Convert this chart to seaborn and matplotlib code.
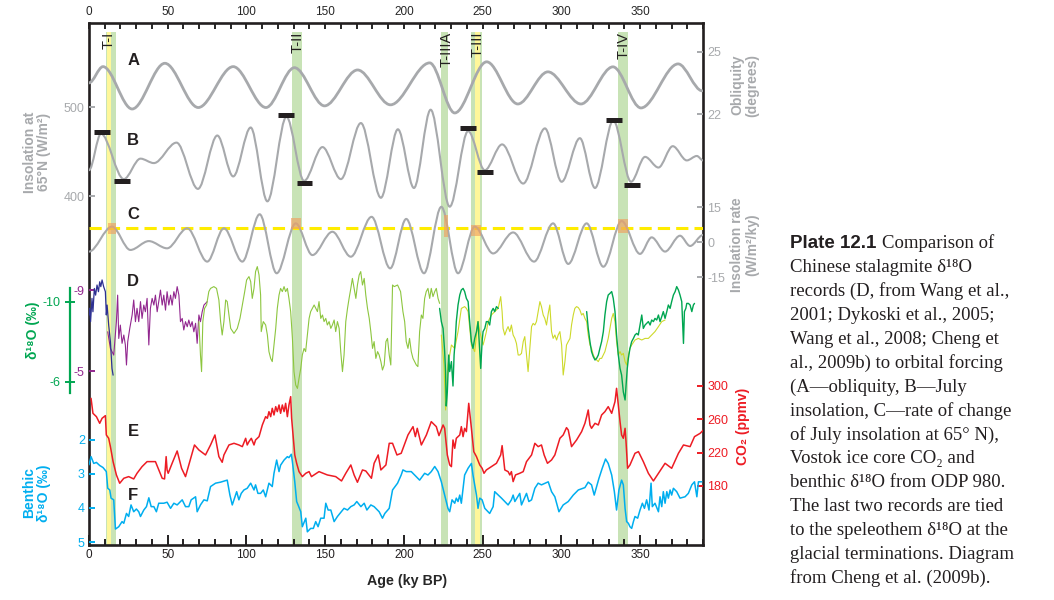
import matplotlib
matplotlib.use("Agg")
import matplotlib.pyplot as plt
import seaborn as sns
import pandas as pd
from matplotlib.path import Path
from matplotlib.patches import PathPatch, Rectangle
from matplotlib.ticker import MultipleLocator

sns.set_style("white")
plt.rcParams["font.family"] = ["Liberation Sans", "DejaVu Sans"]
plt.rcParams["axes.unicode_minus"] = False

# ---------------- data (age in ky BP) ----------------
# A: obliquity (degrees), extrema of the curve
obl_age = [0, 8.9, 27.4, 48.2, 69.4, 91.6, 112.4, 130.5, 149.6, 170.6, 191.5, 216.4, 232.3,
           252.6, 272.4, 291.5, 312.5, 332.8, 350.6, 374.2, 389.5]
obl = [23.50, 24.28, 22.25, 24.44, 22.32, 24.28, 22.32, 24.23, 22.40, 24.12, 22.45, 24.46, 22.06,
       24.51, 22.49, 24.03, 22.49, 24.27, 22.30, 24.41, 23.12]

# B: July insolation 65N (W/m2), extrema
ins_age = [0, 7.6, 22.1, 32.7, 41.2, 55.6, 69.2, 81.5, 91.6, 102.7, 113.3, 125.4, 136.6, 148.3,
           160.0, 172.7, 185.4, 196.2, 206.4, 217.0, 229.1, 240.8, 251.4, 262.4, 275.8, 289.6,
           300.2, 311.8, 321.4, 333.0, 344.3, 353.2, 361.7, 370.8, 379.7, 386.1, 390]
ins = [429, 470, 419, 442, 437, 460, 408, 468, 422, 477, 394, 489, 417, 455, 419, 482, 398, 475,
       409, 497, 388, 473, 429, 458, 414, 476, 416, 465, 409, 485, 416, 444, 432, 456, 440, 445, 440]

# C: insolation rate (W/m2/ky), extrema
rate_age = [0, 14.6, 26.3, 38.0, 49.6, 62.4, 75.1, 85.7, 97.4, 108.4, 119.2, 131.3, 141.9, 154.6,
            166.3, 179.5, 191.3, 201.5, 212.8, 223.8, 234.4, 245.0, 256.7, 269.4, 282.7, 294.8,
            304.4, 316.1, 326.7, 338.3, 350.0, 357.4, 365.9, 375.4, 381.8, 390]
rate = [-4.1, 6.6, -3.4, 0.4, -2.7, 5.9, -8.4, 5.9, -8.4, 11.9, -13.4, 8.0, -5.6, 4.4, -6.3, 10.8,
        -11.3, 9.9, -13.4, 15.1, -13.4, 6.6, -4.9, 4.1, -8.4, 8.0, -9.4, 8.0, -10.6, 9.0, -5.1, 2.0,
        -4.1, 2.7, -1.7, 3.0]
rate_threshold = 5.9

# black bars on B (start age, end age, W/m2)
bar_start = [3.4, 16.1, 120.3, 131.9, 235.5, 246.3, 328.4, 340.0]
bar_end = [13.2, 26.3, 130.3, 141.9, 246.1, 256.5, 338.4, 350.0]
bar_val = [472, 417, 491, 415, 476, 427, 485, 412]

# terminations
term_labels = ["T-I", "T-II", "T-IIIA", "T-III", "T-IV"]
term_label_age = [12.7, 132.4, 227.2, 246.9, 339.8]
term_start = [10.8, 129.2, 223.8, 242.5, 336.0]
term_end = [17.2, 135.4, 228.3, 249.7, 342.2]
yellow_start = [11.6, 245.0]
yellow_end = [13.8, 248.2]
box_start = [11.9, 128.5, 225.3, 242.5, 335.8]
box_end = [17.4, 134.9, 228.0, 248.8, 342.2]
box_lo = [3.4, 5.4, 2.3, 2.7, 4.0]
box_hi = [8.0, 10.4, 11.6, 7.3, 9.7]

# D: stalagmite d18O, dark blue + purple on the purple scale
d_blue = [(0.0, -7.77), (0.4, -8.10), (1.0, -7.44), (1.9, -8.59), (2.5, -7.93), (3.4, -9.08),
          (4.2, -8.75), (5.1, -9.25), (6.0, -8.92), (6.8, -9.41), (7.5, -9.17), (8.3, -9.50),
          (9.3, -9.17), (10.4, -8.92), (11.0, -7.77), (11.5, -8.26), (12.5, -7.27), (13.6, -6.45),
          (14.6, -5.13), (15.3, -4.80)]
d_purple = [(11.9, -6.94), (13.6, -6.12), (15.7, -5.79), (17.4, -7.44), (18.2, -8.75), (18.9, -6.61),
            (19.9, -7.27), (21.0, -6.37), (22.1, -6.78), (23.1, -6.29), (23.8, -5.30), (24.6, -6.45),
            (25.9, -7.11), (27.4, -7.77), (28.4, -8.51), (29.5, -7.44), (30.5, -8.10), (31.6, -7.44),
            (32.7, -8.43), (33.7, -7.60), (34.8, -8.26), (35.8, -7.93), (36.9, -8.59), (38.0, -6.29),
            (39.0, -8.10), (40.1, -8.59), (41.2, -8.26), (42.2, -8.75), (43.3, -7.93), (44.3, -8.43),
            (45.4, -9.00), (46.5, -8.26), (47.5, -8.75), (48.6, -8.01), (49.6, -8.92), (50.7, -8.26),
            (51.8, -8.75), (52.8, -8.26), (53.9, -8.92), (54.9, -8.59), (56.0, -9.17), (57.1, -8.75),
            (58.1, -7.44), (59.2, -7.60), (60.2, -7.03), (61.3, -7.44), (62.4, -7.19), (63.4, -7.52),
            (64.5, -7.19), (65.5, -7.44), (66.6, -6.94), (67.7, -7.36), (68.7, -6.37), (69.8, -7.77),
            (70.8, -7.44), (71.9, -7.93), (73.0, -8.26), (74.0, -8.34), (75.1, -8.43)]

# D: green-scale records
d_light = [(69.8, -9.02), (70.8, -7.35), (71.5, -6.52), (72.3, -9.02), (73.4, -9.68), (74.7, -9.85),
           (76.1, -10.52), (77.2, -10.68), (79.3, -10.77), (81.0, -10.68), (82.5, -10.10), (83.6, -9.02),
           (84.6, -8.35), (85.7, -9.02), (86.8, -10.10), (87.8, -10.02), (88.9, -9.35), (90.0, -8.68),
           (92.1, -8.43), (94.2, -8.68), (95.9, -9.18), (97.4, -9.85), (98.9, -10.52), (100.1, -11.10),
           (101.6, -11.27), (102.7, -11.02), (103.7, -10.18), (104.8, -10.68), (105.8, -11.52),
           (106.9, -11.77), (108.0, -11.35), (109.0, -10.35), (109.4, -8.52), (110.7, -9.02),
           (112.2, -8.85), (113.3, -8.35), (114.3, -7.52), (115.4, -7.18), (116.4, -7.02), (117.5, -7.85),
           (118.6, -8.68), (119.6, -9.68), (120.7, -10.35), (121.7, -10.68), (122.8, -10.52),
           (123.9, -10.77), (124.9, -10.52), (126.0, -10.68), (127.0, -10.18), (128.1, -9.52),
           (129.2, -8.18), (130.2, -6.52), (131.3, -5.85), (132.4, -5.68), (133.4, -6.18), (134.5, -6.68),
           (135.5, -7.35), (136.6, -7.68), (137.6, -7.52), (138.7, -8.35), (139.8, -9.18), (140.8, -9.52),
           (143.0, -9.85), (145.1, -9.52), (146.1, -10.02), (147.2, -9.18), (148.3, -9.35), (149.3, -9.02),
           (150.4, -9.18), (151.4, -8.85), (152.5, -9.02), (153.6, -8.68), (154.6, -8.85), (155.7, -9.10),
           (156.7, -8.52), (157.8, -9.02), (158.9, -8.68), (159.9, -7.52), (161.0, -6.52), (162.0, -7.35),
           (163.1, -9.02), (164.2, -9.68), (165.2, -10.18), (166.3, -10.68), (167.3, -11.18),
           (168.4, -10.68), (169.5, -10.18), (170.5, -10.85), (171.6, -11.35), (172.6, -11.52),
           (173.7, -10.85), (174.8, -11.18), (175.8, -10.35), (176.9, -9.68), (178.0, -9.18),
           (179.0, -8.52), (180.1, -7.68), (181.1, -8.02), (182.2, -7.18), (183.3, -7.52), (184.3, -7.35),
           (185.4, -7.02), (186.4, -6.60), (187.5, -6.85), (188.6, -8.02), (189.6, -8.18), (190.7, -7.35),
           (191.7, -6.85), (192.8, -10.85), (193.9, -10.77), (196.0, -10.85), (197.9, -10.52),
           (199.4, -9.52), (200.5, -9.02), (201.5, -8.02), (202.6, -7.68), (203.6, -8.18), (204.7, -7.52),
           (205.8, -7.18), (206.8, -7.02), (207.9, -6.85), (208.9, -6.77), (210.0, -8.52), (211.1, -9.35),
           (212.1, -9.18), (213.2, -10.18), (214.2, -10.52), (215.3, -10.68), (216.4, -10.18),
           (217.4, -10.68), (218.5, -10.27), (219.6, -10.52), (220.6, -10.68), (221.7, -10.18),
           (222.7, -9.93)]
d_lime = [(223.8, -8.35), (225.5, -6.85), (226.5, -4.6), (228.0, -6.85), (230.2, -7.85), (232.3, -7.68),
          (234.4, -8.52), (236.5, -9.68), (238.6, -9.77), (239.7, -9.68), (240.8, -9.52), (242.9, -7.85),
          (245.0, -7.52), (246.1, -8.35), (247.1, -9.02), (248.2, -8.52), (249.3, -8.18), (250.3, -7.85),
          (251.4, -8.18), (252.4, -8.52), (253.5, -9.02), (255.6, -9.35), (257.7, -9.52), (259.9, -9.68),
          (261.5, -10.27), (262.4, -9.52), (263.0, -8.68), (264.1, -8.35), (265.2, -8.60), (266.2, -8.77),
          (267.3, -8.52), (268.3, -8.85), (269.4, -8.35), (270.5, -8.18), (271.5, -7.93), (272.6, -7.35),
          (273.6, -7.35), (274.7, -7.43), (275.8, -8.02), (276.8, -8.27), (277.9, -7.35), (278.9, -6.52),
          (280.0, -7.68), (281.1, -8.77), (282.1, -8.93), (283.2, -8.85), (284.2, -9.02), (285.3, -9.52),
          (286.4, -10.02), (287.4, -9.77), (288.5, -9.35), (289.5, -9.18), (290.6, -8.85), (291.7, -9.43),
          (292.7, -9.85), (293.8, -8.52), (294.8, -8.18), (295.9, -8.35), (297.0, -8.10), (298.0, -8.35),
          (299.1, -8.52), (300.2, -7.85), (301.2, -6.35), (302.3, -7.02), (303.3, -7.85), (304.4, -8.02),
          (305.5, -8.18), (306.5, -8.85), (307.6, -9.35), (308.6, -9.68), (309.7, -9.77), (310.8, -9.72),
          (311.8, -9.60), (312.9, -9.35), (313.9, -9.43), (315.0, -9.18), (316.1, -9.02), (317.1, -8.35),
          (318.2, -7.85), (319.2, -7.68), (320.3, -7.35), (321.4, -7.18), (323.5, -7.02), (324.5, -7.18),
          (325.6, -7.18), (327.7, -7.52), (329.8, -8.18), (332.0, -9.18), (333.0, -9.43), (334.1, -9.02),
          (335.1, -8.02), (336.2, -7.35), (337.3, -7.52), (338.3, -7.35), (339.4, -7.43), (340.5, -7.02),
          (341.5, -6.85), (342.6, -7.35), (343.6, -7.68), (344.7, -7.85), (346.8, -8.10), (348.9, -8.18),
          (351.1, -8.10), (353.2, -8.18), (355.3, -8.18), (357.4, -8.35), (359.5, -8.52), (361.7, -8.77),
          (363.8, -9.02), (365.9, -9.10)]
d_dark1 = [(222.7, -9.68), (223.8, -9.02), (224.9, -8.68), (225.9, -7.52), (226.5, -6.5), (226.9, -4.8),
           (227.6, -5.5), (228.5, -7.35), (229.1, -6.52), (230.2, -7.02), (231.2, -5.8), (231.9, -7.35),
           (232.7, -8.18), (233.3, -9.02), (234.4, -9.85), (235.5, -10.35), (236.5, -10.60), (237.6, -10.68),
           (238.6, -10.52), (239.7, -10.18), (240.8, -10.02), (241.8, -9.02), (242.9, -8.02), (243.9, -7.68),
           (245.0, -8.18), (246.1, -8.52), (247.1, -9.02), (248.2, -7.52), (248.8, -6.68), (249.7, -8.02),
           (250.3, -8.52), (251.4, -8.68), (252.4, -9.02), (253.5, -9.02), (254.5, -8.85), (255.6, -9.52),
           (256.7, -9.68), (257.7, -9.52), (258.8, -9.77), (259.9, -9.68)]
d_dark2 = [(316.1, -9.52), (317.1, -8.68), (318.2, -8.02), (319.2, -7.52), (320.3, -7.27), (321.4, -7.10),
           (322.4, -7.18), (323.5, -7.35), (324.5, -7.68), (325.6, -8.02), (326.7, -8.52), (327.7, -9.35),
           (328.8, -10.02), (329.8, -10.35), (330.9, -10.43), (332.0, -10.52), (333.0, -10.18),
           (334.1, -9.52), (335.1, -8.35), (336.2, -7.35), (337.3, -6.68), (338.3, -6.35), (339.4, -5.5),
           (340.5, -5.1), (341.1, -5.8), (341.9, -6.68), (342.6, -7.18), (343.6, -7.68), (344.7, -8.02),
           (345.8, -8.18), (346.8, -8.35), (347.9, -8.43), (348.9, -8.35), (350.0, -8.85), (351.1, -9.35),
           (352.1, -8.68), (353.2, -8.85), (354.2, -8.93), (355.3, -9.02), (356.4, -8.85), (357.4, -9.10),
           (358.5, -9.02), (359.5, -9.18), (360.6, -9.10), (361.7, -9.35), (362.7, -9.02), (363.8, -9.27),
           (364.8, -9.52), (365.9, -9.18), (367.0, -9.52), (368.0, -9.85), (369.1, -9.68), (370.1, -10.02),
           (371.2, -10.35), (372.3, -10.52), (373.3, -10.77), (374.4, -10.60), (375.4, -10.35),
           (376.5, -10.02), (377.6, -7.93), (378.2, -9.52), (379.1, -9.68), (379.7, -9.93), (380.7, -9.93),
           (381.8, -9.85), (382.9, -9.52), (383.9, -9.85), (384.6, -9.93)]

# E: Vostok CO2 (ppmv)
co2 = [(1.3, 285.2), (2.5, 267.2), (4.7, 263.2), (6.8, 255.2), (8.3, 261.2), (10.4, 264.4), (11.0, 241.2),
       (12.5, 237.2), (13.6, 227.2), (15.3, 209.2), (17.4, 193.2), (19.5, 183.2), (22.1, 189.2),
       (25.2, 191.2), (28.4, 188.4), (30.5, 195.2), (33.7, 203.2), (36.9, 209.2), (42.2, 209.2),
       (46.5, 189.2), (48.0, 188.4), (49.0, 215.2), (49.6, 199.2), (50.3, 195.2), (52.8, 207.2),
       (56.0, 222.0), (58.8, 201.2), (61.3, 191.2), (67.0, 229.2), (69.8, 223.2), (74.0, 217.2),
       (77.2, 229.2), (80.0, 241.2), (82.5, 215.2), (84.6, 208.4), (85.7, 217.2), (88.9, 229.2),
       (92.1, 231.2), (95.2, 229.2), (97.4, 227.2), (99.5, 237.2), (100.5, 229.2), (101.6, 233.2),
       (103.1, 237.2), (104.8, 229.2), (105.8, 235.2), (108.0, 239.2), (110.1, 253.2), (112.2, 263.2),
       (113.3, 261.2), (114.3, 269.2), (115.4, 263.2), (116.4, 273.2), (117.5, 265.2), (118.6, 275.2),
       (119.6, 269.2), (120.7, 277.2), (121.7, 267.2), (122.8, 277.2), (123.9, 269.2), (124.9, 279.2),
       (126.0, 263.2), (127.0, 277.2), (128.1, 287.2), (128.7, 261.2), (129.8, 237.2), (130.7, 217.2),
       (131.9, 207.2), (133.4, 197.2), (135.5, 191.2), (137.7, 195.2), (139.8, 197.2), (141.3, 191.2),
       (146.1, 197.2), (151.4, 193.2), (156.7, 191.2), (160.4, 186.0), (163.1, 195.2), (166.3, 205.2),
       (168.4, 193.2), (170.5, 184.4), (173.7, 199.2), (175.8, 198.0), (179.4, 189.2), (181.1, 207.2),
       (183.7, 217.2), (185.4, 199.2), (188.6, 205.2), (190.7, 231.2), (192.8, 231.2), (195.6, 217.2),
       (198.3, 219.2), (202.6, 241.2), (205.8, 251.2), (207.3, 239.2), (208.5, 249.2), (211.1, 229.2),
       (214.3, 241.2), (217.4, 257.2), (220.6, 251.2), (222.3, 240.4), (224.9, 253.2), (225.9, 249.2),
       (227.6, 217.2), (229.1, 205.2), (230.2, 203.2), (231.2, 235.2), (232.3, 225.2), (233.3, 237.2),
       (235.5, 241.2), (236.5, 251.2), (237.6, 239.2), (238.6, 249.2), (239.7, 245.2), (241.2, 279.2),
       (242.9, 249.2), (244.4, 221.2), (246.1, 215.2), (248.2, 205.2), (249.7, 201.2), (250.9, 195.2),
       (252.4, 199.2), (255.6, 203.2), (258.8, 207.2), (261.5, 217.2), (262.4, 228.4), (264.1, 199.2),
       (266.2, 197.2), (267.3, 193.2), (268.3, 197.2), (269.4, 185.2), (270.9, 193.2), (273.6, 195.2),
       (275.8, 197.2), (277.9, 209.2), (281.1, 217.2), (283.2, 231.2), (285.3, 227.2), (287.4, 229.2),
       (289.1, 217.2), (291.2, 207.2), (293.8, 211.2), (295.9, 217.2), (299.1, 237.2), (301.2, 241.2),
       (303.3, 250.0), (304.4, 247.2), (306.5, 227.2), (309.7, 235.2), (312.9, 245.2), (315.0, 255.2),
       (316.1, 263.2), (317.1, 271.2), (318.2, 253.2), (319.2, 249.2), (321.4, 255.2), (323.5, 253.2),
       (325.6, 265.2), (327.7, 269.2), (329.8, 275.2), (332.0, 267.2), (334.1, 281.2), (335.1, 297.2),
       (336.2, 277.2), (337.3, 257.2), (338.3, 241.2), (339.4, 237.2), (340.5, 249.2), (341.1, 233.2),
       (342.1, 201.2), (343.6, 205.2), (346.8, 219.2), (349.0, 221.2), (352.1, 209.2), (355.3, 195.2),
       (358.5, 186.0), (361.7, 195.2), (365.9, 207.2), (370.1, 201.2), (374.4, 219.2), (377.6, 229.2),
       (381.8, 227.2), (384.6, 239.2), (388.2, 243.2), (390.3, 247.2)]

# F: benthic d18O ODP 980 (permil)
benthic = [(0.0, 2.73), (1.3, 2.49), (3.0, 2.69), (4.7, 2.66), (6.8, 2.75), (8.9, 2.81), (11.0, 2.93),
           (11.9, 3.42), (13.2, 3.47), (14.0, 3.71), (15.7, 3.76), (16.8, 4.62), (18.9, 4.55), (21.0, 4.40),
           (22.1, 4.45), (23.8, 4.16), (25.2, 4.25), (26.7, 3.91), (28.4, 4.11), (30.1, 4.03), (31.6, 4.11),
           (32.7, 4.25), (34.8, 4.06), (36.5, 3.96), (38.0, 3.70), (39.5, 3.96), (41.2, 3.96), (42.8, 4.11),
           (44.3, 3.86), (47.5, 3.86), (49.6, 3.83), (51.8, 4.01), (53.9, 3.86), (56.0, 3.91), (59.2, 3.76),
           (61.3, 3.96), (63.4, 3.96), (64.9, 3.76), (67.7, 3.67), (68.7, 4.11), (70.8, 3.91), (73.0, 3.76),
           (75.1, 3.79), (77.2, 3.37), (80.4, 3.27), (83.6, 3.24), (87.8, 3.18), (89.5, 3.62), (91.0, 3.91),
           (93.8, 3.52), (95.2, 3.76), (96.7, 3.57), (98.4, 3.47), (100.5, 3.42), (102.7, 3.27),
           (104.8, 3.47), (105.8, 3.32), (107.3, 3.57), (109.0, 3.57), (110.7, 3.47), (112.2, 3.67),
           (114.3, 3.27), (116.4, 3.37), (117.5, 2.98), (119.2, 2.59), (120.7, 2.93), (121.7, 2.74),
           (123.9, 2.59), (126.0, 2.49), (127.0, 2.52), (128.5, 2.42), (129.2, 2.64), (130.7, 3.23),
           (131.9, 3.81), (132.8, 3.91), (134.5, 4.11), (135.5, 4.55), (137.7, 4.30), (138.7, 4.70),
           (140.8, 4.60), (142.5, 4.60), (144.0, 4.40), (145.5, 4.55), (147.2, 4.30), (149.3, 4.30),
           (150.4, 3.86), (151.9, 4.06), (153.6, 4.06), (155.7, 4.40), (157.8, 4.25), (162.0, 4.01),
           (164.2, 4.06), (166.3, 3.96), (168.4, 3.91), (170.1, 3.81), (172.7, 3.96), (174.8, 3.86),
           (176.5, 4.06), (179.0, 3.91), (181.1, 3.96), (184.3, 4.11), (186.4, 4.30), (187.9, 4.16),
           (190.7, 4.01), (192.8, 3.47), (196.0, 3.27), (198.3, 3.03), (199.4, 2.88), (201.5, 2.93),
           (204.7, 2.93), (206.8, 3.03), (210.0, 3.18), (213.2, 2.98), (215.3, 3.03), (217.4, 2.93),
           (219.6, 2.78), (221.7, 2.93), (223.8, 3.23), (225.9, 3.62), (228.0, 4.01), (229.1, 4.11),
           (230.6, 3.76), (232.3, 3.86), (233.3, 3.71), (234.4, 3.81), (235.5, 3.62), (236.5, 3.86),
           (237.6, 3.42), (238.6, 3.03), (239.7, 2.93), (240.8, 2.83), (242.9, 2.69), (243.9, 3.03),
           (246.1, 3.62), (247.1, 4.01), (248.2, 3.71), (249.7, 3.76), (251.4, 4.01), (254.5, 4.16),
           (256.7, 3.96), (257.7, 3.52), (262.0, 3.71), (266.2, 3.91), (268.3, 3.76), (269.4, 3.62),
           (270.5, 3.81), (273.6, 3.57), (274.7, 3.91), (277.9, 3.57), (279.4, 3.81), (281.1, 3.76),
           (283.2, 3.42), (285.3, 3.27), (287.4, 3.32), (291.7, 3.23), (293.8, 3.52), (295.9, 3.67),
           (298.5, 4.11), (301.2, 3.91), (304.4, 3.81), (307.6, 3.62), (310.8, 3.47), (315.0, 3.40),
           (317.1, 3.24), (319.2, 3.32), (320.9, 3.62), (322.4, 3.37), (323.9, 3.13), (326.0, 2.83),
           (328.1, 2.56), (329.8, 2.69), (332.0, 3.03), (333.7, 3.52), (335.1, 4.06), (336.6, 3.47),
           (338.3, 3.18), (339.4, 3.32), (340.5, 4.01), (341.5, 4.40), (342.6, 4.45), (343.6, 4.55),
           (344.7, 4.60), (345.8, 4.40), (346.8, 4.25), (348.5, 4.30), (350.0, 4.06), (351.5, 3.86),
           (352.8, 4.01), (354.2, 3.76), (355.7, 4.06), (357.0, 3.27), (357.8, 3.96), (359.5, 3.86),
           (361.7, 4.11), (362.7, 3.67), (363.8, 3.96), (364.8, 3.52), (365.9, 3.86), (367.0, 3.52),
           (368.0, 3.71), (369.1, 3.47), (370.1, 3.62), (371.2, 3.42), (373.3, 3.52), (375.4, 3.71),
           (378.6, 3.67), (380.7, 3.57), (382.9, 3.32), (384.6, 3.23), (386.1, 3.67), (387.1, 3.23),
           (389.2, 3.23)]

caption = ["Chinese stalagmite δ¹⁸O", "records (D, from Wang et al.,", "2001; Dykoski et al., 2005;",
           "Wang et al., 2008; Cheng et", "al., 2009b) to orbital forcing", "(A—obliquity, B—July",
           "insolation, C—rate of change", "of July insolation at 65° N),", "Vostok ice core CO₂ and",
           "benthic δ¹⁸O from ODP 980.", "The last two records are tied", "to the speleothem δ¹⁸O at the",
           "glacial terminations. Diagram", "from Cheng et al. (2009b)."]

# ---------------- colours ----------------
GRAY = "#a7a9ac"
GREEN = "#00a651"
PURPLE = "#92278f"
BLUE = "#00aeef"
RED = "#ed1c24"
INK = "#231f20"

W, H = 1054, 600
L, R, B, T = 89, 703, 545, 23

fig = plt.figure(figsize=(W / 100, H / 100), dpi=100)
ax = fig.add_axes([L / W, 1 - B / H, (R - L) / W, (B - T) / H])
ax.set_xlim(0, 390)
ax.set_ylim(0, 1)
ax.set_yticks([])
for s in ax.spines.values():
    s.set_linewidth(1.9)
    s.set_color(INK)
ax.xaxis.set_major_locator(MultipleLocator(50))
ax.xaxis.set_minor_locator(MultipleLocator(10))
ax.tick_params(axis="x", which="both", direction="in", bottom=True, top=False, width=1.4,
               labelsize=8.5, pad=3, colors=INK)
ax.tick_params(axis="x", which="major", length=7.5)
ax.tick_params(axis="x", which="minor", length=4.5)
ax.set_xlabel("Age (ky BP)", fontsize=10.3, fontweight="bold")
ax.xaxis.set_label_coords(0.518, -0.056)

top = ax.secondary_xaxis("top")
top.xaxis.set_major_locator(MultipleLocator(50))
top.xaxis.set_minor_locator(MultipleLocator(10))
top.tick_params(which="both", direction="in", length=4.5, width=1.4, labelsize=8.5, pad=3.5)
for s in top.spines.values():
    s.set_visible(False)

# termination bands
for a0, a1 in zip(term_start, term_end):
    ax.axvspan(a0, a1, ymin=0, ymax=0.983, color="#c8e3b6", lw=0, zorder=0)
for a0, a1 in zip(yellow_start, yellow_end):
    ax.axvspan(a0, a1, ymin=0, ymax=0.983, color="#fff79a", lw=0, zorder=0.5)
for lab, a in zip(term_labels, term_label_age):
    ax.text(a, 0.983, lab, rotation=90, ha="center", va="top", fontsize=10.5, color=INK,
            transform=ax.get_xaxis_transform())

for letter, yf in zip("ABCDEF", [0.929, 0.774, 0.634, 0.505, 0.217, 0.094]):
    ax.text(28, yf, letter, fontsize=12, fontweight="bold", color=INK, ha="center", va="center",
            transform=ax.get_xaxis_transform())


def twin(lo, hi, side="right"):
    t = ax.twinx()
    t.set_xlim(0, 390)
    t.set_ylim(lo, hi)
    for s in t.spines.values():
        s.set_visible(False)
    if side == "left":
        t.yaxis.tick_left()
    return t


def style(t, ticks, color, length=4, direction="in"):
    t.set_yticks(ticks)
    t.tick_params(axis="y", direction=direction, length=length, width=1.4, colors=color,
                  labelsize=9, pad=3)


def smooth(t, xs, ys, color, lw):
    verts = [(xs[0], ys[0])]
    codes = [Path.MOVETO]
    for i in range(1, len(xs)):
        dx = (xs[i] - xs[i - 1]) / 3
        verts += [(xs[i - 1] + dx, ys[i - 1]), (xs[i] - dx, ys[i]), (xs[i], ys[i])]
        codes += [Path.CURVE4] * 3
    t.add_patch(PathPatch(Path(verts, codes), fill=False, edgecolor=color, lw=lw,
                          capstyle="round", joinstyle="round"))


def record(t, pts, color, lw):
    df = pd.DataFrame(pts, columns=["age", "val"])
    sns.lineplot(data=df, x="age", y="val", ax=t, color=color, linewidth=lw,
                 estimator=None, sort=False)
    t.set_xlabel("")
    t.set_ylabel("")


# A obliquity
t_obl = twin(1.36, 26.37)
smooth(t_obl, obl_age, obl, GRAY, 2.0)
t_obl.set_ylim(1.36, 26.37)
style(t_obl, [22, 25], GRAY)

# B insolation
t_ins = twin(7.9, 594.4, "left")
smooth(t_ins, ins_age, ins, GRAY, 1.5)
t_ins.hlines(bar_val, bar_start, bar_end, color=INK, lw=3.6)
t_ins.set_ylim(7.9, 594.4)
style(t_ins, [400, 500], GRAY)

# C insolation rate
t_rate = twin(-129.9, 93.9)
t_rate.axhline(rate_threshold, color="#ffec00", lw=2.2, ls=(0, (4, 2)), zorder=1)
smooth(t_rate, rate_age, rate, GRAY, 1.5)
for a0, a1, lo, hi in zip(box_start, box_end, box_lo, box_hi):
    t_rate.add_patch(Rectangle((a0, lo), a1 - a0, hi - lo, facecolor="#f0a060", alpha=0.65,
                               lw=0, zorder=3))
t_rate.set_ylim(-129.9, 93.9)
style(t_rate, [-15, 0, 15], GRAY)

# D stalagmite records
t_dp = twin(3.59, -22.19, "left")
record(t_dp, d_purple, PURPLE, 0.8)
record(t_dp, d_blue, "#2e3192", 0.9)
t_dp.set_ylim(3.59, -22.19)
style(t_dp, [-9, -5], PURPLE)

t_dg = twin(2.15, -23.95, "left")
record(t_dg, d_light, "#8dc63f", 0.8)
record(t_dg, d_lime, "#cdd92a", 0.8)
record(t_dg, d_dark1, GREEN, 1.0)
record(t_dg, d_dark2, GREEN, 1.0)
t_dg.set_ylim(2.15, -23.95)
t_dg.spines["left"].set_visible(True)
t_dg.spines["left"].set_position(("outward", 14))
t_dg.spines["left"].set_bounds(-10.7, -5.45)
t_dg.spines["left"].set_color(GREEN)
t_dg.spines["left"].set_linewidth(1.6)
style(t_dg, [-10, -6], GREEN, length=7, direction="inout")

# E CO2
t_co2 = twin(109.1, 735.8)
record(t_co2, co2, RED, 1.1)
t_co2.set_ylim(109.1, 735.8)
style(t_co2, [180, 220, 260, 300], RED)

# F benthic
t_ben = twin(5.088, -10.26, "left")
record(t_ben, benthic, BLUE, 1.1)
t_ben.set_ylim(5.088, -10.26)
style(t_ben, [2, 3, 4, 5], BLUE)

# axis titles
lab = dict(fontsize=10, fontweight="bold", rotation=90, ha="center", va="center",
           transform=ax.transAxes, linespacing=1.05)
ax.text(-0.085, 0.753, "Insolation at\n65°N (W/m²)", color=GRAY, **lab)
ax.text(-0.092, 0.412, "δ¹⁸O (‰)", color=GREEN, **lab)
ax.text(-0.085, 0.100, "Benthic\nδ¹⁸O (‰)", color=BLUE, **lab)
ax.text(1.068, 0.881, "Obliquity\n(degrees)", color=GRAY, **lab)
ax.text(1.068, 0.575, "Insolation rate\n(W/m²/ky)", color=GRAY, **lab)
ax.text(1.065, 0.228, "CO₂ (ppmv)", color=RED, **lab)

# caption
serif = ["Liberation Serif", "DejaVu Serif"]
x0 = 790 / W
t1 = fig.text(x0, 1 - 248 / H, "Plate 12.1", fontsize=13.5, fontweight="bold",
              family=["Liberation Sans", "DejaVu Sans"], color=INK, va="baseline")
bb = t1.get_window_extent(renderer=fig.canvas.get_renderer())
fig.text((bb.x1 + 6) / W, 1 - 248 / H, "Comparison of", fontsize=13.5, family=serif,
         color=INK, va="baseline")
for i, line in enumerate(caption, start=1):
    fig.text(x0, 1 - (248 + i * 23.93) / H, line, fontsize=13.5, family=serif, color=INK,
             va="baseline")

fig.savefig("out.png", dpi=100)
